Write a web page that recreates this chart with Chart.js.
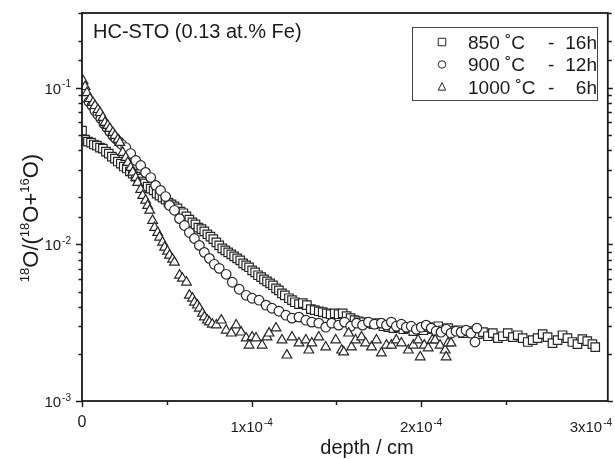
<!DOCTYPE html>
<html>
<head>
<meta charset="utf-8">
<script src="https://cdn.jsdelivr.net/npm/chart.js@4.4.0/dist/chart.umd.min.js"></script>
<style>
  html, body { margin: 0; padding: 0; background: #fff; }
  #wrap { width: 615px; height: 459px; }
</style>
</head>
<body>
<div id="wrap"><canvas id="c"></canvas></div>
<script>
// depth in units of 1e-4 cm, ratio = 18O/(18O+16O)
const depth850 = [0, 0.018, 0.035, 0.053, 0.070, 0.088, 0.106, 0.123, 0.141, 0.158,
  0.176, 0.194, 0.211, 0.229, 0.246, 0.264, 0.282, 0.299, 0.317, 0.334,
  0.352, 0.370, 0.387, 0.405, 0.422, 0.440, 0.457, 0.475, 0.493, 0.510,
  0.528, 0.545, 0.563, 0.581, 0.598, 0.616, 0.633, 0.651, 0.669, 0.686,
  0.704, 0.721, 0.739, 0.757, 0.774, 0.792, 0.809, 0.827, 0.845, 0.862,
  0.880, 0.897, 0.915, 0.933, 0.950, 0.968, 0.985, 1.003, 1.021, 1.038,
  1.056, 1.073, 1.091, 1.109, 1.126, 1.144, 1.161, 1.179, 1.196, 1.220,
  1.238, 1.255, 1.279, 1.302, 1.326, 1.349, 1.372, 1.396, 1.419, 1.443,
  1.466, 1.490, 1.513, 1.537, 1.560, 1.584, 1.607, 1.630, 1.660, 1.689,
  1.718, 1.748, 1.777, 1.806, 1.836, 1.865, 1.894, 1.924, 1.953, 1.982,
  2.012, 2.041, 2.070, 2.100, 2.129, 2.158, 2.188, 2.217, 2.246, 2.276,
  2.305, 2.334, 2.364, 2.393, 2.422, 2.452, 2.481, 2.510, 2.540, 2.569,
  2.598, 2.628, 2.657, 2.686, 2.716, 2.745, 2.774, 2.804, 2.833, 2.862,
  2.891, 2.921, 2.950, 2.979, 3.009, 3.026];
const ratio850 = [0.0532, 0.0466, 0.0453, 0.0446, 0.0434, 0.0427, 0.0415, 0.0409, 0.0391, 0.0380,
  0.0363, 0.0353, 0.0338, 0.0328, 0.0314, 0.0305, 0.0292, 0.0283, 0.0271, 0.0263,
  0.0252, 0.0245, 0.0234, 0.0227, 0.0221, 0.0211, 0.0205, 0.0199, 0.0193, 0.0185,
  0.0180, 0.0175, 0.0170, 0.0162, 0.0158, 0.0151, 0.0144, 0.0138, 0.0134, 0.0128,
  0.0125, 0.0121, 0.0116, 0.0112, 0.0108, 0.0103, 0.00985, 0.00943, 0.00916, 0.00889,
  0.00864, 0.00839, 0.00814, 0.00791, 0.00757, 0.00735, 0.00714, 0.00683, 0.00663, 0.00635,
  0.00617, 0.00598, 0.00581, 0.00564, 0.00548, 0.00524, 0.00509, 0.00487, 0.00473, 0.00453,
  0.00440, 0.00427, 0.00415, 0.00421, 0.00409, 0.00386, 0.00380, 0.00374, 0.00369, 0.00363,
  0.00358, 0.00363, 0.00358, 0.00363, 0.00348, 0.00338, 0.00328, 0.00323, 0.00319, 0.00314,
  0.00309, 0.00314, 0.00300, 0.00296, 0.00292, 0.00296, 0.00287, 0.00292, 0.00279, 0.00287,
  0.00283, 0.00296, 0.00287, 0.00300, 0.00283, 0.00292, 0.00279, 0.00283, 0.00271, 0.00279,
  0.00271, 0.00267, 0.00275, 0.00259, 0.00271, 0.00252, 0.00259, 0.00271, 0.00256, 0.00263,
  0.00252, 0.00238, 0.00245, 0.00252, 0.00267, 0.00256, 0.00234, 0.00245, 0.00263, 0.00252,
  0.00238, 0.00231, 0.00248, 0.00241, 0.00231, 0.00221];

const depth900 = [0.006, 0.023, 0.041, 0.059, 0.076, 0.094, 0.111, 0.129, 0.147, 0.164,
  0.182, 0.199, 0.217, 0.235, 0.258, 0.287, 0.317, 0.346, 0.375, 0.405,
  0.434, 0.463, 0.493, 0.516, 0.545, 0.575, 0.604, 0.633, 0.663, 0.692,
  0.721, 0.751, 0.780, 0.809, 0.850, 0.886, 0.927, 0.968, 1.003, 1.044,
  1.085, 1.120, 1.161, 1.202, 1.238, 1.279, 1.320, 1.355, 1.396, 1.437,
  1.472, 1.513, 1.548, 1.584, 1.619, 1.654, 1.689, 1.724, 1.765, 1.795,
  1.824, 1.853, 1.883, 1.912, 1.941, 1.971, 2.000, 2.029, 2.059, 2.088,
  2.117, 2.147, 2.176, 2.205, 2.235, 2.264, 2.293, 2.317, 2.328];
const ratio900 = [0.0916, 0.0864, 0.0814, 0.0768, 0.0714, 0.0673, 0.0635, 0.0590, 0.0556, 0.0525,
  0.0495, 0.0473, 0.0453, 0.0434, 0.0415, 0.0380, 0.0343, 0.0319, 0.0288, 0.0267,
  0.0238, 0.0221, 0.0202, 0.0177, 0.0165, 0.0146, 0.0132, 0.0119, 0.0109, 0.00985,
  0.00889, 0.00814, 0.00746, 0.00703, 0.00644, 0.00573, 0.00517, 0.00473, 0.00453, 0.00440,
  0.00409, 0.00391, 0.00374, 0.00353, 0.00338, 0.00343, 0.00328, 0.00319, 0.00314, 0.00296,
  0.00314, 0.00305, 0.00319, 0.00300, 0.00314, 0.00305, 0.00319, 0.00309, 0.00314, 0.00305,
  0.00319, 0.00300, 0.00309, 0.00296, 0.00300, 0.00287, 0.00296, 0.00305, 0.00292, 0.00279,
  0.00275, 0.00287, 0.00271, 0.00279, 0.00275, 0.00283, 0.00271, 0.00238, 0.00292];

const depth1000 = [0.006, 0.018, 0.029, 0.047, 0.065, 0.076, 0.094, 0.106, 0.123, 0.135,
  0.152, 0.164, 0.182, 0.194, 0.211, 0.223, 0.240, 0.258, 0.270, 0.287,
  0.299, 0.317, 0.328, 0.346, 0.358, 0.375, 0.387, 0.399, 0.416, 0.428,
  0.446, 0.457, 0.475, 0.487, 0.504, 0.516, 0.534, 0.545, 0.575, 0.592,
  0.616, 0.633, 0.651, 0.663, 0.680, 0.692, 0.710, 0.721, 0.739, 0.751,
  0.768, 0.792, 0.821, 0.850, 0.880, 0.909, 0.938, 0.968, 0.985, 1.003,
  1.026, 1.062, 1.091, 1.103, 1.144, 1.179, 1.208, 1.238, 1.279, 1.320,
  1.337, 1.355, 1.396, 1.437, 1.496, 1.531, 1.543, 1.572, 1.589, 1.613,
  1.648, 1.672, 1.707, 1.736, 1.765, 1.795, 1.824, 1.853, 1.883, 1.924,
  1.953, 1.982, 1.994, 2.018, 2.041, 2.065, 2.082, 2.111, 2.141, 2.147,
  2.158, 2.176];
const ratio1000 = [0.1108, 0.1015, 0.0929, 0.0851, 0.0803, 0.0768, 0.0724, 0.0693, 0.0644, 0.0599,
  0.0573, 0.0548, 0.0517, 0.0495, 0.0466, 0.0446, 0.0386, 0.0358, 0.0333, 0.0309,
  0.0288, 0.0267, 0.0248, 0.0224, 0.0205, 0.0191, 0.0177, 0.0165, 0.0142, 0.0128,
  0.0119, 0.0111, 0.0103, 0.00957, 0.00903, 0.00851, 0.00803, 0.00768, 0.00635, 0.00607,
  0.00573, 0.00473, 0.00453, 0.00427, 0.00409, 0.00391, 0.00363, 0.00343, 0.00328, 0.00319,
  0.00309, 0.00305, 0.00328, 0.00283, 0.00271, 0.00305, 0.00275, 0.00252, 0.00227, 0.00256,
  0.00252, 0.00227, 0.00256, 0.00271, 0.00292, 0.00245, 0.00196, 0.00256, 0.00234, 0.00245,
  0.00211, 0.00234, 0.00256, 0.00221, 0.00245, 0.00211, 0.00205, 0.00271, 0.00221, 0.00245,
  0.00256, 0.00234, 0.00221, 0.00245, 0.00202, 0.00227, 0.00227, 0.00245, 0.00234, 0.00211,
  0.00227, 0.00245, 0.00191, 0.00227, 0.00218, 0.00245, 0.00245, 0.00227, 0.00211, 0.00191,
  0.00234, 0.00234];

const seriesNames = ['850 ˚C', '900 ˚C', '1000 ˚C'];
const seriesTimes = ['16h', '12h', '6h'];
const xTickLabels = ['0', '1x10', '2x10', '3x10'];

const FONT = '"Liberation Sans", Arial, Helvetica, sans-serif';
const INK = '#1a1a1a';
const MARK = '#262626';

function pts(xs, ys) {
  return xs.map((x, i) => ({ x: x, y: ys[i] }));
}

function isDecade(v) {
  const e = Math.log10(v);
  return Math.abs(e - Math.round(e)) < 1e-6;
}

// base text with a raised exponent
function drawPow(ctx, base, exp, x, y, size, align) {
  const bf = size + 'px ' + FONT;
  const ef = Math.round(size * 0.68) + 'px ' + FONT;
  ctx.font = bf;
  const wb = ctx.measureText(base).width;
  ctx.font = ef;
  const we = exp ? ctx.measureText(exp).width + 1 : 0;
  let x0 = x;
  if (align === 'right') x0 = x - wb - we;
  if (align === 'center') x0 = x - (wb + we) / 2;
  ctx.textAlign = 'left';
  ctx.textBaseline = 'alphabetic';
  ctx.font = bf;
  ctx.fillText(base, x0, y);
  if (exp) {
    ctx.font = ef;
    ctx.fillText(exp, x0 + wb + 1, y - size * 0.42);
  }
}

function marker(ctx, style, x, y, s) {
  ctx.beginPath();
  if (style === 'rect') {
    ctx.rect(x - s / 2, y - s / 2, s, s);
  } else if (style === 'circle') {
    ctx.arc(x, y, s / 2, 0, Math.PI * 2);
  } else {
    ctx.moveTo(x, y - s * 0.58);
    ctx.lineTo(x + s / 2, y + s * 0.42);
    ctx.lineTo(x - s / 2, y + s * 0.42);
    ctx.closePath();
  }
  ctx.fillStyle = '#fff';
  ctx.fill();
  ctx.stroke();
}

const decor = {
  id: 'decor',
  afterDatasetsDraw(chart) {
    const { ctx, chartArea: a, scales: { x, y } } = chart;
    ctx.save();

    // frame
    ctx.strokeStyle = INK;
    ctx.lineWidth = 1.8;
    ctx.strokeRect(a.left, a.top, a.right - a.left, a.bottom - a.top);

    // ticks
    ctx.lineWidth = 1.4;
    ctx.beginPath();
    y.ticks.forEach(t => {
      const py = Math.round(y.getPixelForValue(t.value)) + 0.5;
      const major = isDecade(t.value);
      const len = major ? 6 : 3.5;
      ctx.moveTo(a.left, py); ctx.lineTo(a.left - len, py);
      ctx.moveTo(a.right, py); ctx.lineTo(a.right + (major ? 5 : 4), py);
    });
    x.ticks.forEach(t => {
      if (Math.abs(t.value * 2 - Math.round(t.value * 2)) > 1e-6) return;
      const px = Math.round(x.getPixelForValue(t.value)) + 0.5;
      const major = Math.abs(t.value - Math.round(t.value)) < 1e-6;
      ctx.moveTo(px, a.bottom); ctx.lineTo(px, a.bottom + (major ? 6 : 4));
    });
    ctx.stroke();

    // tick labels
    ctx.fillStyle = INK;
    y.ticks.forEach(t => {
      if (!isDecade(t.value)) return;
      const py = y.getPixelForValue(t.value);
      drawPow(ctx, '10', String(Math.round(Math.log10(t.value))), 71, py + 6, 15, 'right');
    });
    xTickLabels.forEach((lab, i) => {
      const px = x.getPixelForValue(i);
      if (i === 0) drawPow(ctx, lab, '', px, 427, 16, 'center');
      else drawPow(ctx, lab, '-4', px, 432, 15, 'center');
    });

    // axis titles
    ctx.font = '20px ' + FONT;
    ctx.textAlign = 'center';
    ctx.fillText('depth / cm', 367, 454);

    const parts = [['18', 1], ['O/(', 0], ['18', 1], ['O+', 0], ['16', 1], ['O)', 0]];
    const big = '22px ' + FONT, small = '13px ' + FONT;
    let total = 0;
    parts.forEach(p => { ctx.font = p[1] ? small : big; total += ctx.measureText(p[0]).width; });
    ctx.save();
    ctx.translate(38, 218 + total / 2);
    ctx.rotate(-Math.PI / 2);
    ctx.textAlign = 'left';
    let cx = 0;
    parts.forEach(p => {
      ctx.font = p[1] ? small : big;
      ctx.fillText(p[0], cx, p[1] ? -9 : 0);
      cx += ctx.measureText(p[0]).width;
    });
    ctx.restore();

    // sample label
    ctx.font = '20px ' + FONT;
    ctx.textAlign = 'left';
    ctx.fillText('HC-STO (0.13 at.% Fe)', 93, 38);

    // legend box
    ctx.strokeStyle = '#444';
    ctx.lineWidth = 1;
    ctx.strokeRect(412.5, 27.5, 185, 73);
    const styles = ['rect', 'circle', 'triangle'];
    const rowY = [42, 64.5, 87];
    styles.forEach((st, i) => {
      ctx.strokeStyle = MARK;
      ctx.lineWidth = 1;
      marker(ctx, st, 442, rowY[i], 7.5);
      ctx.fillStyle = INK;
      ctx.font = '19px ' + FONT;
      ctx.textAlign = 'left';
      ctx.fillText(seriesNames[i], 468, rowY[i] + 6.5);
      ctx.fillText('-', 548, rowY[i] + 6.5);
      ctx.textAlign = 'right';
      ctx.fillText(seriesTimes[i], 597, rowY[i] + 6.5);
    });

    ctx.restore();
  }
};

const common = {
  showLine: false,
  borderColor: MARK,
  backgroundColor: '#fff',
  borderWidth: 1.2,
  pointBorderColor: MARK,
  pointBackgroundColor: '#fff',
  pointBorderWidth: 1.2
};

new Chart(document.getElementById('c'), {
  type: 'scatter',
  data: {
    datasets: [
      Object.assign({ label: seriesNames[2], data: pts(depth1000, ratio1000), pointStyle: 'triangle', pointRadius: 5.6 }, common),
      Object.assign({ label: seriesNames[1], data: pts(depth900, ratio900), pointStyle: 'circle', pointRadius: 4.8 }, common),
      Object.assign({ label: seriesNames[0], data: pts(depth850, ratio850), pointStyle: 'rect', pointRadius: 6 }, common)
    ]
  },
  options: {
    responsive: true,
    maintainAspectRatio: false,
    animation: false,
    events: [],
    layout: { padding: { top: 13, right: 5, left: 0, bottom: 0 } },
    plugins: {
      legend: { display: false },
      tooltip: { enabled: false }
    },
    scales: {
      x: {
        type: 'linear',
        min: 0,
        max: 3.1,
        ticks: { display: false, stepSize: 0.5 },
        grid: { display: false, drawTicks: false },
        border: { display: false },
        afterFit: s => { s.height = 58; }
      },
      y: {
        type: 'logarithmic',
        min: 0.001,
        max: 0.3,
        ticks: { display: false },
        grid: { display: false, drawTicks: false },
        border: { display: false },
        afterFit: s => { s.width = 82; }
      }
    }
  },
  plugins: [decor]
});
</script>
</body>
</html>
